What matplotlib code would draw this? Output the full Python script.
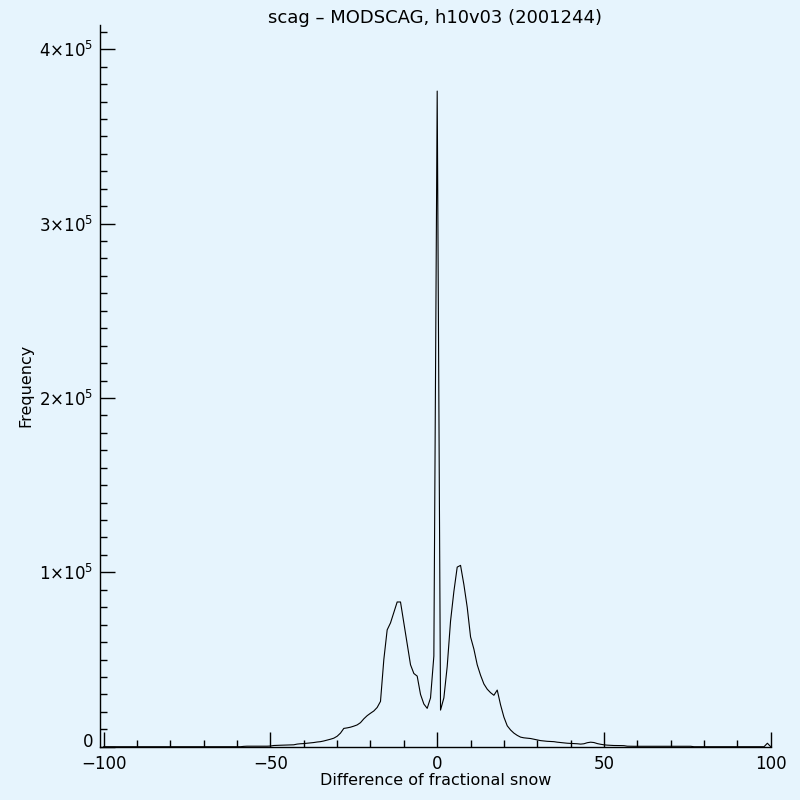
import numpy as np
import matplotlib
matplotlib.use("Agg")
import matplotlib.pyplot as plt
from matplotlib.ticker import FixedLocator, FixedFormatter, MultipleLocator

# ---- data ----
title = "scag \u2013 MODSCAG, h10v03 (2001244)"
xlabel = "Difference of fractional snow"
ylabel = "Frequency"

bin_start = -100
bin_stop = 100
# frequencies for bins -100 .. -59 are zero
zeros_left = [0] * 42
# frequencies for bins -58 .. 100
freq_right = [
    200, 300, 300, 300, 300, 300, 300, 300, 400, 700,          # -58..-49
    800, 850, 900, 950, 1000, 1100, 1500, 1700, 1800, 2000,    # -48..-39
    2200, 2400, 2700, 2900, 3300, 3800, 4300, 4900, 6000, 7800,  # -38..-29
    10500, 10800, 11200, 11800, 12500, 13800, 16000, 17800, 19200, 20500,  # -28..-19
    22500, 26000, 50000, 67000, 71000, 77000, 83000, 83000, 71000, 59000,  # -18..-9
    47000, 42000, 40500, 30000, 24500, 22000, 28000, 52000,    # -8..-1
    376000,                                                    # 0
    21000, 28000, 46000, 72000, 89000, 103000, 104000, 93000, 80000, 63000,  # 1..10
    56000, 47000, 41000, 36000, 33000, 31000, 29500, 32500, 24000, 17000,    # 11..20
    12000, 9600, 7800, 6500, 5500, 5100, 4900, 4700, 4300, 3900,            # 21..30
    3500, 3300, 3100, 3000, 2900, 2600, 2400, 2200, 2000, 1900,              # 31..40
    1800, 1700, 1500, 1700, 2300, 2600, 2400, 1800, 1400, 1100,              # 41..50
    900, 800, 700, 700, 650, 600, 300,                                       # 51..57
    250, 250, 250, 250, 250, 250, 250, 250, 250, 250, 250, 250, 250, 250, 250, 250, 250,  # 58..74
    200, 250,                                                                # 75..76
    0, 0, 0, 0, 0, 0, 0, 0, 0, 0, 0, 0, 0, 0, 0, 0, 0, 0, 0, 0, 0, 0,        # 77..98
    2000, 0,                                                                 # 99..100
]
freq = zeros_left + freq_right
bins = np.arange(bin_start, bin_stop + 1)

xticks = [-100, -50, 0, 50, 100]
xtick_labels = ["\u2212100", "\u221250", "0", "50", "100"]
yticks = [0, 100000, 200000, 300000, 400000]
ytick_labels = ["0", r"$1{\times}10^{5}$", r"$2{\times}10^{5}$",
                r"$3{\times}10^{5}$", r"$4{\times}10^{5}$"]

# ---- style ----
bg = "#E6F4FD"
plt.rcParams["mathtext.fontset"] = "dejavusans"
plt.rcParams["font.family"] = ["DejaVu Sans"]

fig = plt.figure(figsize=(8, 8), dpi=100, facecolor=bg)
ax = fig.add_axes([0.125, 0.0666, 0.9634 - 0.125, 0.96875 - 0.0666])
ax.set_facecolor(bg)

ax.plot(bins, freq, color="black", linewidth=0.8, antialiased=True)

ax.set_xlim(-101.1, 100)
ax.set_ylim(0, 413900)

for s in ["top", "right"]:
    ax.spines[s].set_visible(False)
for s in ["left", "bottom"]:
    ax.spines[s].set_linewidth(1.0)
    ax.spines[s].set_color("black")

ax.xaxis.set_major_locator(FixedLocator(xticks))
ax.xaxis.set_major_formatter(FixedFormatter(xtick_labels))
ax.xaxis.set_minor_locator(MultipleLocator(10))
ax.yaxis.set_major_locator(FixedLocator(yticks))
ax.yaxis.set_major_formatter(FixedFormatter(ytick_labels))
ax.yaxis.set_minor_locator(MultipleLocator(10000))

ax.tick_params(which="major", direction="in", length=10.5, width=1.0,
               labelsize=12, colors="black")
ax.tick_params(which="minor", direction="in", length=5, width=1.0)
ax.tick_params(axis="y", which="both", left=True, right=False, pad=5)
ax.tick_params(axis="x", which="both", bottom=True, top=False, pad=6)

fig.text(435 / 800, 1 - 18 / 800, title, fontsize=13, ha="center", va="center")
ax.set_xlabel(xlabel, fontsize=11.5, labelpad=0)
ax.set_ylabel(ylabel, fontsize=11.5, labelpad=4)

fig.canvas.draw()
for lab in ax.get_yticklabels():
    if lab.get_text() == "0":
        lab.set_verticalalignment("baseline")

fig.savefig("out.png", dpi=100, facecolor=bg)
